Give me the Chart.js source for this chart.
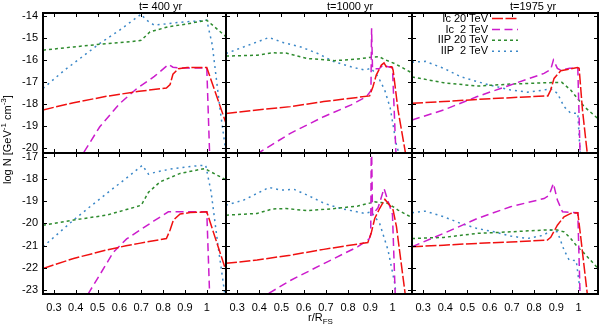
<!DOCTYPE html>
<html>
<head>
<meta charset="utf-8">
<script src="https://cdn.jsdelivr.net/npm/chart.js@4.4.1/dist/chart.umd.min.js"></script>
<style>
    body { margin: 0; background: #fff; }
    #wrap {
        position: relative; width: 600px; height: 326px; overflow: hidden;
        font-family: "Liberation Sans", Arial, sans-serif; font-size: 11px; color: #000;
    }
    #wrap canvas { position: absolute; left: 0; top: 0; }
    .txt { position: absolute; white-space: pre; line-height: 11px; }
    sup, sub { font-size: 8px; line-height: 0; }
</style>
</head>
<body>
<div id="wrap"></div>
<script>
/* tick values and labels */
const xTicks = [0.3, 0.4, 0.5, 0.6, 0.7, 0.8, 0.9, 1.0];
const yTicksUpper = [-14, -15, -16, -17, -18, -19, -20];
const yTicksLower = [-17, -18, -19, -20, -21, -22, -23];
const panelTitles = ['t= 400 yr', 't=1000 yr', 't=1975 yr'];
const seriesLabels = ['Ic 20 TeV', 'Ic  2 TeV', 'IIP 20 TeV', 'IIP  2 TeV'];

/* upper row, [r/R_FS, log N] */
const ic20_400_up = [[0.25, -18.28], [0.39, -17.95], [0.54, -17.66], [0.69, -17.43], [0.815, -17.28], [0.832, -17.12],
    [0.845, -16.65], [0.87, -16.4], [0.91, -16.34], [1.0, -16.34], [1.09, -18.95]];
const ic2_400_up = [[0.38, -21.2], [0.435, -20.25], [0.51, -19.05], [0.6, -18.0], [0.68, -17.3], [0.76, -16.75],
    [0.825, -16.2], [0.845, -16.33], [0.87, -16.36], [1.0, -16.36], [1.014, -20.6]];
const iip20_400_up = [[0.25, -15.55], [0.39, -15.4], [0.54, -15.25], [0.66, -15.15], [0.7, -15.1], [0.74, -14.71],
    [0.82, -14.49], [0.92, -14.33], [1.0, -14.18], [1.09, -14.95]];
const iip2_400_up = [[0.25, -17.3], [0.35, -16.45], [0.45, -15.7], [0.51, -15.24], [0.6, -14.64], [0.7, -13.9],
    [0.72, -14.15], [0.76, -14.41], [0.85, -14.3], [0.95, -14.22], [1.0, -14.18], [1.025, -15.3], [1.06, -18.2],
    [1.09, -20.4]];

const ic20_1000_up = [[0.25, -18.45], [0.39, -18.28], [0.54, -18.13], [0.69, -17.9], [0.897, -17.64], [0.912, -17.22],
    [0.927, -16.69], [0.95, -16.23], [0.962, -16.13], [0.972, -16.31], [0.997, -16.31], [1.003, -16.46],
    [1.025, -18.28], [1.056, -20.1], [1.07, -21.0]];
const ic2_1000_up = [[0.36, -20.8], [0.39, -20.29], [0.54, -19.35], [0.69, -18.59], [0.814, -18.05], [0.882, -17.68],
    [0.903, -17.4], [0.906, -14.55], [0.91, -16.4], [0.94, -16.4], [0.96, -16.2], [0.975, -16.3], [1.0, -16.35],
    [1.017, -20.6]];
const iip20_1000_up = [[0.25, -15.82], [0.39, -15.78], [0.46, -15.67], [0.52, -15.68], [0.617, -15.93], [0.74, -16.03],
    [0.844, -15.95], [0.91, -15.87], [0.94, -15.85], [0.97, -16.0], [1.01, -16.16], [1.09, -16.6]];
const iip2_1000_up = [[0.25, -15.7], [0.33, -15.4], [0.444, -14.97], [0.51, -15.21], [0.587, -15.4], [0.663, -15.7],
    [0.738, -16.08], [0.814, -16.31], [0.874, -16.46], [0.904, -16.38], [0.935, -16.76], [0.965, -17.37],
    [0.99, -18.2], [1.018, -19.9], [1.04, -20.6]];

const ic20_1975_up = [[0.25, -17.98], [0.393, -17.9], [0.544, -17.8], [0.694, -17.72], [0.862, -17.64], [0.875, -17.37],
    [0.89, -16.84], [0.92, -16.49], [0.995, -16.34], [1.003, -16.38], [1.018, -18.28], [1.04, -20.3], [1.05, -21.0]];
const ic2_1975_up = [[0.25, -18.74], [0.393, -18.28], [0.544, -17.67], [0.694, -17.14], [0.845, -16.61], [0.875, -16.43],
    [0.887, -16.0], [0.905, -16.38], [0.92, -16.46], [0.96, -16.38], [0.997, -16.36], [1.008, -20.6]];
const iip20_1975_up = [[0.25, -16.77], [0.393, -17.04], [0.544, -17.19], [0.694, -17.1], [0.845, -17.04], [0.925, -17.02],
    [0.965, -17.37], [0.995, -17.75], [1.026, -18.13], [1.09, -18.7]];
const iip2_1975_up = [[0.25, -16.1], [0.31, -16.06], [0.393, -16.38], [0.469, -16.76], [0.544, -16.99], [0.619, -17.19],
    [0.694, -17.37], [0.77, -17.47], [0.845, -17.37], [0.875, -17.3], [0.905, -17.52], [0.935, -18.13],
    [0.965, -18.43], [0.997, -18.43], [1.003, -19.5], [1.01, -20.6]];

/* lower row */
const ic20_400_lo = [[0.25, -22.03], [0.39, -21.58], [0.54, -21.2], [0.63, -21.01], [0.69, -20.9], [0.815, -20.68],
    [0.832, -20.3], [0.847, -19.85], [0.878, -19.58], [0.924, -19.51], [1.0, -19.48], [1.09, -22.2]];
const ic2_400_lo = [[0.43, -23.7], [0.457, -23.17], [0.511, -22.3], [0.572, -21.3], [0.633, -20.7], [0.694, -20.3],
    [0.756, -19.9], [0.824, -19.48], [1.0, -19.48], [1.014, -23.5]];
const iip20_400_lo = [[0.25, -20.08], [0.39, -19.85], [0.54, -19.63], [0.66, -19.3], [0.7, -19.18], [0.733, -18.6],
    [0.786, -18.13], [0.878, -17.75], [0.99, -17.53], [1.09, -18.05]];
const iip2_400_lo = [[0.25, -21.05], [0.39, -19.85], [0.465, -19.25], [0.542, -18.65], [0.649, -17.83], [0.705, -17.38],
    [0.733, -17.78], [0.771, -17.68], [0.847, -17.53], [0.94, -17.42], [0.995, -17.38], [1.02, -18.6],
    [1.05, -20.9], [1.08, -23.0], [1.09, -23.8]];

const ic20_1000_lo = [[0.25, -21.8], [0.39, -21.65], [0.54, -21.43], [0.69, -21.17], [0.889, -20.86], [0.904, -20.45],
    [0.92, -19.78], [0.942, -19.33], [0.966, -18.92], [0.988, -19.18], [1.003, -19.4], [1.018, -20.15],
    [1.055, -23.0], [1.065, -23.8]];
const ic2_1000_lo = [[0.41, -23.6], [0.436, -23.19], [0.542, -22.56], [0.693, -21.8], [0.844, -21.05], [0.895, -20.7],
    [0.902, -20.5], [0.905, -15.8], [0.91, -19.6], [0.935, -19.3], [0.962, -18.43], [0.98, -19.0], [1.0, -19.6],
    [1.013, -23.4]];
const iip20_1000_lo = [[0.25, -19.63], [0.39, -19.55], [0.46, -19.35], [0.52, -19.33], [0.617, -19.43], [0.74, -19.33],
    [0.844, -19.22], [0.92, -19.03], [0.98, -19.1], [1.025, -19.4], [1.09, -19.75]];
const iip2_1000_lo = [[0.25, -19.18], [0.33, -18.95], [0.444, -18.38], [0.497, -18.5], [0.557, -18.47], [0.617, -18.73],
    [0.693, -19.1], [0.768, -19.33], [0.874, -19.55], [0.904, -19.48], [0.942, -20.0], [0.98, -21.2],
    [1.01, -22.7], [1.02, -23.5]];

const ic20_1975_lo = [[0.25, -21.05], [0.393, -20.98], [0.544, -20.9], [0.694, -20.84], [0.86, -20.75], [0.875, -20.63],
    [0.905, -20.08], [0.935, -19.7], [0.965, -19.55], [0.997, -19.52], [1.01, -20.6], [1.04, -23.2], [1.045, -23.6]];
const ic2_1975_lo = [[0.25, -21.05], [0.393, -20.45], [0.544, -19.78], [0.694, -19.25], [0.845, -18.88], [0.868, -18.73],
    [0.887, -18.2], [0.905, -18.95], [0.928, -19.48], [0.997, -19.52], [1.008, -23.5]];
const iip20_1975_lo = [[0.25, -20.68], [0.393, -20.63], [0.544, -20.45], [0.694, -20.38], [0.845, -20.3], [0.905, -20.3],
    [0.935, -20.38], [0.965, -20.68], [0.995, -21.05], [1.026, -21.35], [1.09, -22.05]];
const iip2_1975_lo = [[0.25, -19.52], [0.31, -19.45], [0.393, -19.7], [0.469, -20.0], [0.544, -20.23], [0.619, -20.38],
    [0.694, -20.57], [0.77, -20.68], [0.845, -20.53], [0.875, -20.3], [0.905, -20.38], [0.935, -21.2],
    [0.958, -21.65], [0.99, -21.68], [1.003, -22.7], [1.01, -23.6]];


const FONT = '"Liberation Sans", Arial, sans-serif';
const colLeft = [43, 226, 412];
const colRight = [226, 412, 598];
const rowTop = [13, 153];
const rowBottom = [153, 294];
const yRange = [[-20.25, -13.85], [-23.18, -16.83]];
const xRange = [0.25, 1.088];

const lineStyles = [
    {color: '#f01010', dash: [11, 2.5], width: 1.5},
    {color: '#cc1ccc', dash: [8, 4.5], width: 1.5},
    {color: '#2e8b2e', dash: [3, 3], width: 1.5},
    {color: '#3c88c8', dash: [2, 4], width: 1.5},
];

const panelSeries = [
    [[ic20_400_up, ic2_400_up, iip20_400_up, iip2_400_up],
     [ic20_1000_up, ic2_1000_up, iip20_1000_up, iip2_1000_up],
     [ic20_1975_up, ic2_1975_up, iip20_1975_up, iip2_1975_up]],
    [[ic20_400_lo, ic2_400_lo, iip20_400_lo, iip2_400_lo],
     [ic20_1000_lo, ic2_1000_lo, iip20_1000_lo, iip2_1000_lo],
     [ic20_1975_lo, ic2_1975_lo, iip20_1975_lo, iip2_1975_lo]],
];


/* Frame, inward ticks and key samples, gnuplot style */
const framePlugin = {
    id: 'frame',
    afterDatasetsDraw(chart, args, opts) {
        const ctx = chart.ctx;
        const a = chart.chartArea;
        const xs = chart.scales.x;
        const ys = chart.scales.y;
        ctx.save();
        ctx.strokeStyle = '#000';
        ctx.lineWidth = 1;
        ctx.beginPath();
        xTicks.forEach(v => {
            const px = Math.round(xs.getPixelForValue(v)) + 0.5;
            ctx.moveTo(px, a.top);
            ctx.lineTo(px, a.top + 4);
            ctx.moveTo(px, a.bottom);
            ctx.lineTo(px, a.bottom - 4);
        });
        opts.yTicks.forEach(v => {
            const py = Math.round(ys.getPixelForValue(v)) + 0.5;
            ctx.moveTo(a.left, py);
            ctx.lineTo(a.left + 4, py);
            ctx.moveTo(a.right, py);
            ctx.lineTo(a.right - 4, py);
        });
        ctx.stroke();
        ctx.lineWidth = 2;
        ctx.strokeRect(a.left, a.top, a.right - a.left, a.bottom - a.top);

        if (opts.legend) {
            chart.data.datasets.forEach((ds, i) => {
                const y = 18.5 + i * 10.9;
                ctx.strokeStyle = ds.borderColor;
                ctx.lineWidth = ds.borderWidth;
                ctx.setLineDash(ds.borderDash);
                ctx.beginPath();
                ctx.moveTo(492, y);
                ctx.lineTo(518, y);
                ctx.stroke();
            });
        }
        ctx.restore();
    }
};


function makePanel(row, col) {
    const wrap = document.getElementById('wrap');
    const canvas = document.createElement('canvas');
    canvas.width = 600;
    canvas.height = 326;
    wrap.appendChild(canvas);

    const yTicks = row === 0 ? yTicksUpper : yTicksLower;
    const showX = row === 1;
    const showY = col === 0;
    // label strips get a real box, because Chart.js clips labels to it
    const yAxisW = showY ? colLeft[col] : 0;
    const xAxisH = showX ? 326 - rowBottom[row] : 0;

    const datasets = panelSeries[row][col].map((pts, i) => ({
        label: seriesLabels[i],
        data: pts.map(p => ({x: p[0], y: p[1]})),
        borderColor: lineStyles[i].color,
        borderDash: lineStyles[i].dash,
        borderWidth: lineStyles[i].width,
        borderCapStyle: 'butt',
        pointRadius: 0,
        tension: 0,
        fill: false,
    }));

    return new Chart(canvas, {
        type: 'line',
        data: {datasets: datasets},
        options: {
            responsive: false,
            animation: false,
            devicePixelRatio: 1,
            events: [],
            layout: {
                padding: {
                    left: colLeft[col] - yAxisW,
                    right: 600 - colRight[col],
                    top: rowTop[row],
                    bottom: 326 - rowBottom[row] - xAxisH,
                }
            },
            scales: {
                x: {
                    type: 'linear',
                    min: xRange[0],
                    max: xRange[1],
                    grid: {display: false, drawTicks: false},
                    border: {display: false},
                    afterBuildTicks: s => { s.ticks = xTicks.map(v => ({value: v})); },
                    afterFit: s => { s.height = xAxisH; },
                    ticks: {
                        display: showX,
                        padding: 7,
                        autoSkip: false,
                        maxRotation: 0,
                        color: '#000',
                        font: {family: FONT, size: 11},
                        callback: v => (v === 1 ? '1' : v.toFixed(1)),
                    },
                },
                y: {
                    type: 'linear',
                    min: yRange[row][0],
                    max: yRange[row][1],
                    grid: {display: false, drawTicks: false},
                    border: {display: false},
                    afterBuildTicks: s => { s.ticks = yTicks.map(v => ({value: v})); },
                    afterFit: s => { s.width = yAxisW; },
                    ticks: {
                        display: showY,
                        padding: 5,
                        autoSkip: false,
                        color: '#000',
                        font: {family: FONT, size: 11},
                        callback: v => String(v),
                    },
                },
            },
            plugins: {
                legend: {display: false},
                tooltip: {enabled: false},
                frame: {yTicks: yTicks, legend: row === 0 && col === 2},
            }
        },
        plugins: [framePlugin],
    });
}

function addText(html, css) {
    const el = document.createElement('div');
    el.className = 'txt';
    el.innerHTML = html;
    Object.assign(el.style, css);
    document.getElementById('wrap').appendChild(el);
    return el;
}

for (let row = 0; row < 2; row++) {
    for (let col = 0; col < 3; col++) {
        makePanel(row, col);
    }
}

/* panel titles */
const titleLeft = [139, 327, 510];
panelTitles.forEach((t, i) => addText(t, {left: titleLeft[i] + 'px', top: '1px'}));

/* key text, right justified */
addText(seriesLabels.join('\n'), {
    right: '112px', top: '12.6px', lineHeight: '10.9px', textAlign: 'right'
});

/* axis labels */
addText('log N [GeV<sup>-1</sup> cm<sup>-3</sup>]', {
    left: '2px', top: '184px', transformOrigin: '0 0', transform: 'rotate(-90deg)'
});
addText('r/R<sub>FS</sub>', {left: '308px', top: '312px'});
</script>
</body>
</html>
